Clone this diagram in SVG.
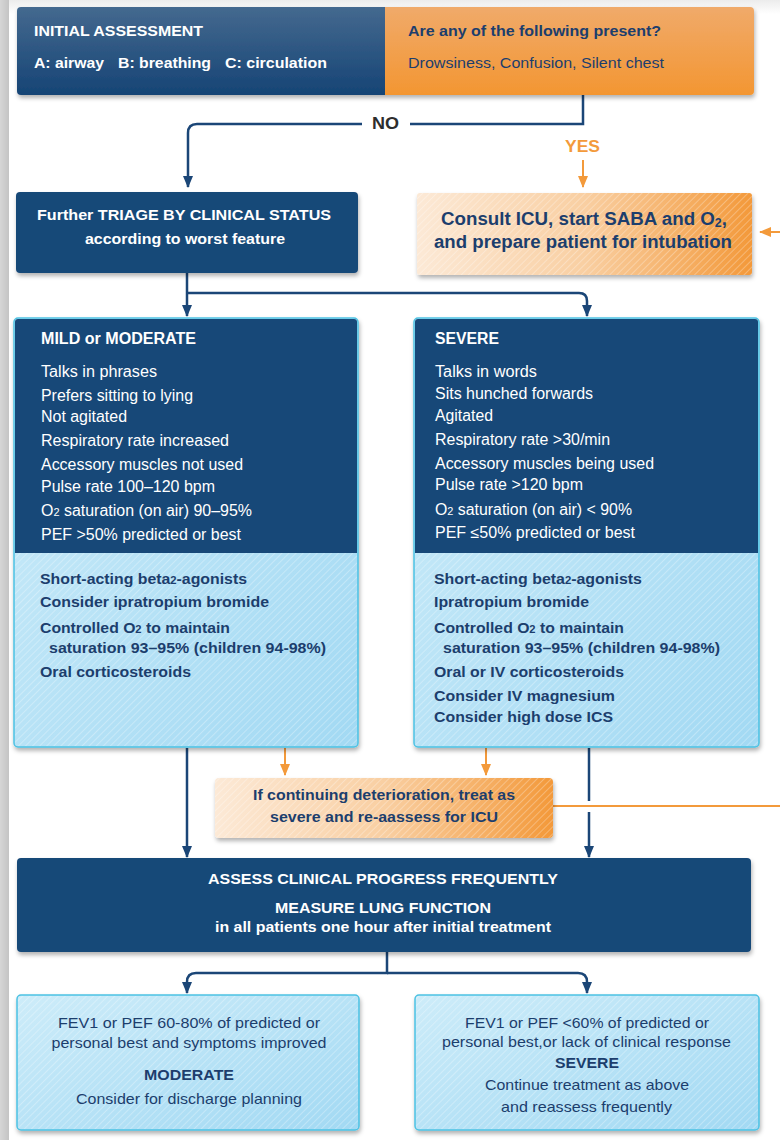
<svg xmlns="http://www.w3.org/2000/svg" width="780" height="1140" viewBox="0 0 780 1140">
<defs>
<linearGradient id="gBg" x1="0" y1="0" x2="0" y2="1"><stop offset="0" stop-color="#ececec"/><stop offset="1" stop-color="#ffffff"/></linearGradient>
<linearGradient id="gStrip" x1="0" y1="0" x2="1" y2="0"><stop offset="0" stop-color="#d6d6d6"/><stop offset="1" stop-color="#c4c4c4"/></linearGradient>
<linearGradient id="gHdrL" x1="0" y1="0" x2="0" y2="1"><stop offset="0" stop-color="#44698f"/><stop offset="1" stop-color="#164475"/></linearGradient>
<linearGradient id="gHdrR" x1="0" y1="0" x2="0" y2="1"><stop offset="0" stop-color="#f0aa6a"/><stop offset="1" stop-color="#f39632"/></linearGradient>
<linearGradient id="gOr" x1="0" y1="0" x2="1" y2="0"><stop offset="0" stop-color="#fce9d6"/><stop offset="0.5" stop-color="#f9cfa2"/><stop offset="1" stop-color="#f3993a"/></linearGradient>
<linearGradient id="gBl" x1="0" y1="0" x2="1" y2="1"><stop offset="0" stop-color="#cdecf9"/><stop offset="1" stop-color="#a2d9f3"/></linearGradient>
<pattern id="hatch" width="5" height="5" patternUnits="userSpaceOnUse" patternTransform="rotate(45)"><line x1="0" y1="0" x2="0" y2="5" stroke="#ffffff" stroke-opacity="0.4" stroke-width="1.4"/></pattern>
<filter id="sh" x="-5%" y="-10%" width="110%" height="130%"><feDropShadow dx="1" dy="3" stdDeviation="2" flood-color="#000" flood-opacity="0.3"/></filter>
<marker id="aN" markerUnits="userSpaceOnUse" markerWidth="12" markerHeight="10" viewBox="0 0 12 10" refX="11" refY="5" orient="auto"><path d="M0,0 L12,5 L0,10 z" fill="#1b4677"/></marker>
<marker id="aO" markerUnits="userSpaceOnUse" markerWidth="12" markerHeight="10" viewBox="0 0 12 10" refX="11" refY="5" orient="auto"><path d="M0,0 L12,5 L0,10 z" fill="#f39a3b"/></marker>
<style>
text{font-family:"Liberation Sans",Arial,sans-serif}
.w{fill:#ffffff}
.n{fill:#1c3e6d}
.b{font-weight:bold}
.s15{font-size:15.5px}
.s16{font-size:16px}
.s14{font-size:14.5px}
.c{text-anchor:middle}
.cn{fill:none;stroke:#1b4677;stroke-width:2.5}
.co{fill:none;stroke:#f39a3b;stroke-width:2}
.navy{fill:#174878}
.blue{fill:url(#gBl);stroke:#4cc2e3;stroke-width:1.5}
</style>
</defs>
<rect x="0" y="0" width="780" height="1140" fill="#ffffff"/>
<rect x="0" y="0" width="780" height="14" fill="url(#gBg)"/>
<rect x="0" y="0" width="9" height="1140" fill="url(#gStrip)"/>

<g id="connectors">
<path class="cn" d="M583,95 V124 H410 M362,124 H197 Q188,124 188,133 V187" marker-end="url(#aN)"/>
<path class="co" d="M583,160 V187" marker-end="url(#aO)"/>
<path class="co" d="M780,232 H760" marker-end="url(#aO)"/>
<path class="cn" d="M187,273 V316" marker-end="url(#aN)"/>
<path class="cn" d="M187,293 H579 Q587,293 587,301 V316" marker-end="url(#aN)"/>
<path class="cn" d="M187,748 V857" marker-end="url(#aN)"/>
<path class="co" d="M285,748 V775" marker-end="url(#aO)"/>
<path class="co" d="M486,748 V775" marker-end="url(#aO)"/>
<path class="cn" d="M589,748 V801"/>
<path class="cn" d="M589,812 V857" marker-end="url(#aN)"/>
<path class="co" d="M553,806 H780"/>
<path class="cn" d="M387,952 V973 H196 Q187,973 187,982 V993" marker-end="url(#aN)"/>
<path class="cn" d="M387,973 H578 Q587,973 587,982 V993" marker-end="url(#aN)"/>
<text class="b" x="372" y="129" font-size="16" fill="#2d2d2d" textLength="27" lengthAdjust="spacingAndGlyphs">NO</text>
<text class="b" x="565" y="152" font-size="17" fill="#f39a3b" textLength="35" lengthAdjust="spacingAndGlyphs">YES</text>
</g>

<g id="header" filter="url(#sh)">
<path d="M385,7 H750 Q754,7 754,11 V91 Q754,95 750,95 H385 Z" fill="url(#gHdrR)"/>
<path d="M385,7 H21 Q17,7 17,11 V91 Q17,95 21,95 H385 Z" fill="url(#gHdrL)"/>
</g>
<g id="header-text">
<text class="w b s15" x="34" y="36" textLength="169" lengthAdjust="spacingAndGlyphs">INITIAL ASSESSMENT</text>
<text class="w b s15" x="34" y="68" textLength="70" lengthAdjust="spacingAndGlyphs">A: airway</text>
<text class="w b s15" x="118" y="68" textLength="93" lengthAdjust="spacingAndGlyphs">B: breathing</text>
<text class="w b s15" x="225" y="68" textLength="102" lengthAdjust="spacingAndGlyphs">C: circulation</text>
<text class="n b s15" x="408" y="36" textLength="253" lengthAdjust="spacingAndGlyphs">Are any of the following present?</text>
<text class="n s15" x="408" y="68" textLength="256" lengthAdjust="spacingAndGlyphs">Drowsiness, Confusion, Silent chest</text>
</g>

<g id="triage">
<rect class="navy" x="16" y="192" width="342" height="81" rx="4" filter="url(#sh)"/>
<text class="w b s15" x="37" y="220" textLength="294" lengthAdjust="spacingAndGlyphs">Further TRIAGE BY CLINICAL STATUS</text>
<text class="w b s15" x="85" y="244" textLength="200" lengthAdjust="spacingAndGlyphs">according to worst feature</text>
</g>

<g id="consult">
<rect x="417" y="193" width="335" height="82" rx="3" fill="url(#gOr)" filter="url(#sh)"/>
<rect x="417" y="193" width="335" height="82" rx="3" fill="url(#hatch)"/>
<text class="n b" font-size="18" x="441" y="225" textLength="286" lengthAdjust="spacingAndGlyphs">Consult ICU, start SABA and O<tspan font-size="12" dy="2">2</tspan><tspan dy="-2">,</tspan></text>
<text class="n b" font-size="18" x="434" y="248" textLength="298" lengthAdjust="spacingAndGlyphs">and prepare patient for intubation</text>
</g>

<g id="mild">
<rect class="blue" x="14" y="318" width="344" height="429" rx="4" filter="url(#sh)"/>
<rect x="15" y="553" width="342" height="193" rx="3" fill="url(#hatch)"/>
<path class="navy" d="M15,553 V322 Q15,319 18,319 H354 Q357,319 357,322 V553 Z"/>
<text class="w b s16" x="41" y="344" textLength="155" lengthAdjust="spacingAndGlyphs">MILD or MODERATE</text>
<text class="w s16" x="41" y="377" textLength="116" lengthAdjust="spacingAndGlyphs">Talks in phrases</text>
<text class="w s16" x="41" y="401" textLength="152" lengthAdjust="spacingAndGlyphs">Prefers sitting to lying</text>
<text class="w s16" x="41" y="422" textLength="86" lengthAdjust="spacingAndGlyphs">Not agitated</text>
<text class="w s16" x="41" y="446" textLength="188" lengthAdjust="spacingAndGlyphs">Respiratory rate increased</text>
<text class="w s16" x="41" y="470" textLength="202" lengthAdjust="spacingAndGlyphs">Accessory muscles not used</text>
<text class="w s16" x="41" y="492" textLength="174" lengthAdjust="spacingAndGlyphs">Pulse rate 100–120 bpm</text>
<text class="w s16" x="41" y="516" textLength="211" lengthAdjust="spacingAndGlyphs">O<tspan font-size="11">2</tspan> saturation (on air) 90–95%</text>
<text class="w s16" x="41" y="540" textLength="200" lengthAdjust="spacingAndGlyphs">PEF &gt;50% predicted or best</text>
<text class="n b s15" x="40" y="584" textLength="207" lengthAdjust="spacingAndGlyphs">Short-acting beta<tspan font-size="11">2</tspan>-agonists</text>
<text class="n b s15" x="40" y="607" textLength="229" lengthAdjust="spacingAndGlyphs">Consider ipratropium bromide</text>
<text class="n b s15" x="40" y="633" textLength="190" lengthAdjust="spacingAndGlyphs">Controlled O<tspan font-size="11">2</tspan> to maintain</text>
<text class="n b s15" x="49" y="653" textLength="277" lengthAdjust="spacingAndGlyphs">saturation 93–95% (children 94-98%)</text>
<text class="n b s15" x="40" y="677" textLength="151" lengthAdjust="spacingAndGlyphs">Oral corticosteroids</text>
</g>

<g id="severe">
<rect class="blue" x="414" y="318" width="345" height="429" rx="4" filter="url(#sh)"/>
<rect x="415" y="553" width="343" height="193" rx="3" fill="url(#hatch)"/>
<path class="navy" d="M415,553 V322 Q415,319 418,319 H755 Q758,319 758,322 V553 Z"/>
<text class="w b s16" x="435" y="344" textLength="64" lengthAdjust="spacingAndGlyphs">SEVERE</text>
<text class="w s16" x="435" y="377" textLength="102" lengthAdjust="spacingAndGlyphs">Talks in words</text>
<text class="w s16" x="435" y="399" textLength="158" lengthAdjust="spacingAndGlyphs">Sits hunched forwards</text>
<text class="w s16" x="435" y="421" textLength="58" lengthAdjust="spacingAndGlyphs">Agitated</text>
<text class="w s16" x="435" y="445" textLength="175" lengthAdjust="spacingAndGlyphs">Respiratory rate &gt;30/min</text>
<text class="w s16" x="435" y="469" textLength="219" lengthAdjust="spacingAndGlyphs">Accessory muscles being used</text>
<text class="w s16" x="435" y="490" textLength="148" lengthAdjust="spacingAndGlyphs">Pulse rate &gt;120 bpm</text>
<text class="w s16" x="435" y="515" textLength="197" lengthAdjust="spacingAndGlyphs">O<tspan font-size="11">2</tspan> saturation (on air) &lt; 90%</text>
<text class="w s16" x="435" y="538" textLength="200" lengthAdjust="spacingAndGlyphs">PEF ≤50% predicted or best</text>
<text class="n b s15" x="434" y="584" textLength="208" lengthAdjust="spacingAndGlyphs">Short-acting beta<tspan font-size="11">2</tspan>-agonists</text>
<text class="n b s15" x="434" y="607" textLength="155" lengthAdjust="spacingAndGlyphs">Ipratropium bromide</text>
<text class="n b s15" x="434" y="633" textLength="190" lengthAdjust="spacingAndGlyphs">Controlled O<tspan font-size="11">2</tspan> to maintain</text>
<text class="n b s15" x="443" y="653" textLength="277" lengthAdjust="spacingAndGlyphs">saturation 93–95% (children 94-98%)</text>
<text class="n b s15" x="434" y="677" textLength="190" lengthAdjust="spacingAndGlyphs">Oral or IV corticosteroids</text>
<text class="n b s15" x="434" y="701" textLength="181" lengthAdjust="spacingAndGlyphs">Consider IV magnesium</text>
<text class="n b s15" x="434" y="722" textLength="179" lengthAdjust="spacingAndGlyphs">Consider high dose ICS</text>
</g>

<g id="deterioration">
<rect x="215" y="778" width="338" height="60" rx="4" fill="url(#gOr)" filter="url(#sh)"/>
<rect x="215" y="778" width="338" height="60" rx="4" fill="url(#hatch)"/>
<text class="n b s15" x="253" y="800" textLength="262" lengthAdjust="spacingAndGlyphs">If continuing deterioration, treat as</text>
<text class="n b s15" x="270" y="822" textLength="228" lengthAdjust="spacingAndGlyphs">severe and re-aassess for ICU</text>
</g>

<g id="assess">
<rect class="navy" x="17" y="858" width="734" height="94" rx="4" filter="url(#sh)"/>
<text class="w b s15" x="208" y="884" textLength="350" lengthAdjust="spacingAndGlyphs">ASSESS CLINICAL PROGRESS FREQUENTLY</text>
<text class="w b s15" x="275" y="913" textLength="216" lengthAdjust="spacingAndGlyphs">MEASURE LUNG FUNCTION</text>
<text class="w b s15" x="215" y="932" textLength="336" lengthAdjust="spacingAndGlyphs">in all patients one hour after initial treatment</text>
</g>

<g id="moderate-outcome">
<rect class="blue" x="17" y="995" width="342" height="135" rx="4" filter="url(#sh)"/>
<rect x="18" y="996" width="340" height="133" rx="3" fill="url(#hatch)"/>
<text class="n s14 c" x="189" y="1028" textLength="262" lengthAdjust="spacingAndGlyphs">FEV1 or PEF 60-80% of predicted or</text>
<text class="n s14 c" x="189" y="1048" textLength="275" lengthAdjust="spacingAndGlyphs">personal best and symptoms improved</text>
<text class="n b s14 c" x="189" y="1080" textLength="90" lengthAdjust="spacingAndGlyphs">MODERATE</text>
<text class="n s14 c" x="189" y="1104" textLength="226" lengthAdjust="spacingAndGlyphs">Consider for discharge planning</text>
</g>

<g id="severe-outcome">
<rect class="blue" x="415" y="995" width="344" height="135" rx="4" filter="url(#sh)"/>
<rect x="416" y="996" width="342" height="133" rx="3" fill="url(#hatch)"/>
<text class="n s14 c" x="587" y="1028" textLength="244" lengthAdjust="spacingAndGlyphs">FEV1 or PEF &lt;60% of predicted or</text>
<text class="n s14 c" x="586.5" y="1047" textLength="289" lengthAdjust="spacingAndGlyphs">personal best,or lack of clinical response</text>
<text class="n b s14 c" x="587" y="1068" textLength="64" lengthAdjust="spacingAndGlyphs">SEVERE</text>
<text class="n s14 c" x="587" y="1090" textLength="204" lengthAdjust="spacingAndGlyphs">Continue treatment as above</text>
<text class="n s14 c" x="586.5" y="1112" textLength="171" lengthAdjust="spacingAndGlyphs">and reassess frequently</text>
</g>
</svg>
